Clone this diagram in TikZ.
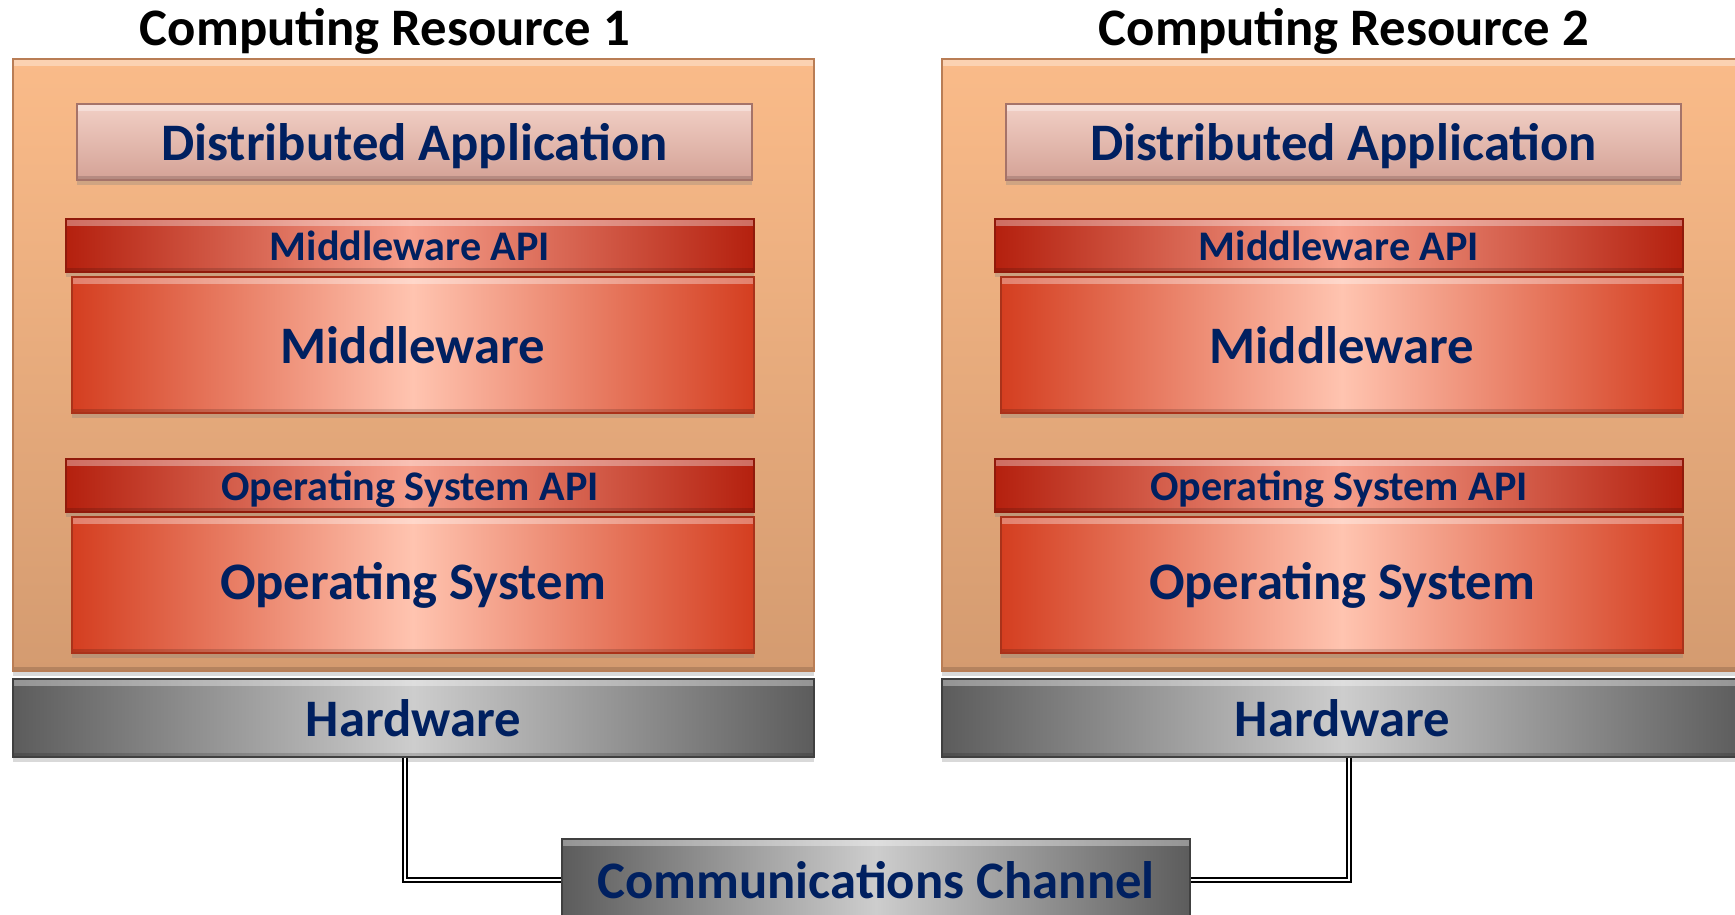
\documentclass[tikz,border=0pt]{standalone}
\usepackage{fontspec}
\setmainfont{Carlito}
\usetikzlibrary{positioning, shadows}

\definecolor{peachtop}{RGB}{250,187,137}
\definecolor{peachbot}{RGB}{212,155,112}
\definecolor{peachedge}{RGB}{185,125,85}
\definecolor{apptop}{RGB}{242,208,198}
\definecolor{appbot}{RGB}{212,162,150}
\definecolor{appedge}{RGB}{165,115,105}
\definecolor{apidark}{RGB}{180,32,14}
\definecolor{apilight}{RGB}{246,160,140}
\definecolor{laydark}{RGB}{212,62,32}
\definecolor{laylight}{RGB}{255,196,176}
\definecolor{hwdark}{RGB}{92,92,92}
\definecolor{hwlight}{RGB}{205,205,205}
\definecolor{textblue}{RGB}{0,32,96}

\tikzset{
	bevel/.style={path picture={
		\fill[white, opacity=0.35] (path picture bounding box.north west) rectangle ([yshift=-0.07cm]path picture bounding box.north east);
		\fill[black, opacity=0.15] (path picture bounding box.south west) rectangle ([yshift=0.04cm]path picture bounding box.south east);
	}},
	shade/.style={drop shadow={shadow xshift=0pt, shadow yshift=-0.05cm, opacity=0.3}},
	resource/.style={draw=peachedge, line width=0.4pt, top color=peachtop, bottom color=peachbot, shade, bevel, minimum width=8.01cm, minimum height=6.12cm},
	title/.style={font=\fontsize{15}{18}\selectfont\bfseries},
	appbox/.style={draw=appedge, top color=apptop, bottom color=appbot, text=textblue, shade, bevel, font=\fontsize{15}{18}\selectfont\bfseries, text depth=0pt, minimum width=6.75cm, minimum height=0.76cm},
	apibox/.style={draw=apidark!80!black, left color=apidark, right color=apidark, middle color=apilight, text=textblue, shade, bevel, font=\fontsize{12}{14}\selectfont\bfseries, text depth=0pt, minimum width=6.88cm, minimum height=0.51cm},
	layerbox/.style={draw=laydark!80!black, left color=laydark, right color=laydark, middle color=laylight, text=textblue, shade, bevel, font=\fontsize{15}{18}\selectfont\bfseries, minimum width=6.82cm, minimum height=1.36cm},
	hwbox/.style={draw=hwdark!70!black, left color=hwdark, right color=hwdark, middle color=hwlight, text=textblue, shade, bevel, font=\fontsize{15}{18}\selectfont\bfseries, minimum width=8.01cm, minimum height=0.78cm},
	link/.style={draw=black, line width=0.45pt, double=white, double distance=0.7pt}
}

\begin{document}
\begin{tikzpicture}
	\useasboundingbox (0,0) rectangle (17.35,-9.14);

	% computing resource 1
	\node[title] (t1) at (3.85,-0.31) {Computing Resource 1};
	\node[resource] (res1) at (4.135,-3.65) {};
	\node[appbox] (app1) at (4.145,-1.42) {Distributed Application};
	\node[apibox] (mwapi1) at (4.10,-2.455) {Middleware API};
	\node[layerbox] (mw1) at (4.13,-3.45) {Middleware};
	\node[apibox] (osapi1) at (4.10,-4.855) {Operating System API};
	\node[layerbox] (os1) at (4.13,-5.85) {Operating System};
	\node[hwbox] (hw1) at (4.135,-7.18) {Hardware};

	% computing resource 2
	\node[title] (t2) at (13.44,-0.31) {Computing Resource 2};
	\node[resource] (res2) at (13.425,-3.65) {};
	\node[appbox] (app2) at (13.435,-1.42) {Distributed Application};
	\node[apibox] (mwapi2) at (13.39,-2.455) {Middleware API};
	\node[layerbox] (mw2) at (13.42,-3.45) {Middleware};
	\node[apibox] (osapi2) at (13.39,-4.855) {Operating System API};
	\node[layerbox] (os2) at (13.42,-5.85) {Operating System};
	\node[hwbox] (hw2) at (13.425,-7.18) {Hardware};

	% channel
	\node[hwbox, minimum width=6.28cm, minimum height=0.82cm] (chan) at (8.76,-8.80) {Communications Channel};

	\draw[link] ([xshift=-0.085cm]hw1.south) |- (chan.west);
	\draw[link] ([xshift=0.065cm]hw2.south) |- (chan.east);
\end{tikzpicture}
\end{document}
